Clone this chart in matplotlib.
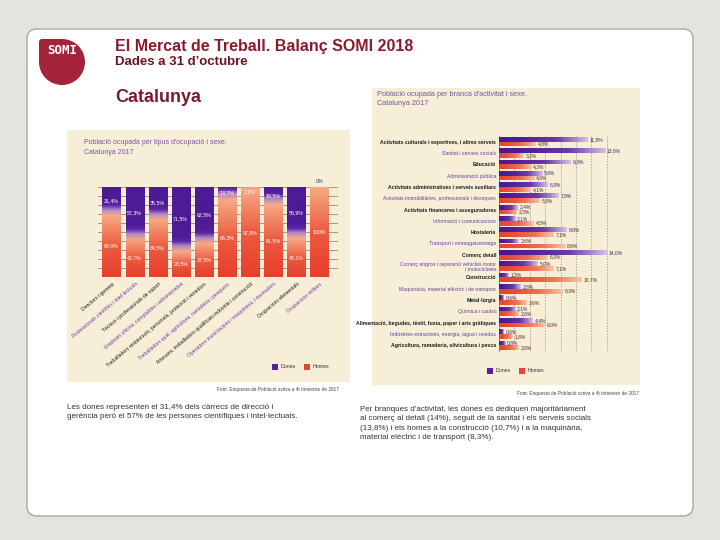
import numpy as np
import matplotlib
matplotlib.use("Agg")
import matplotlib.pyplot as plt
from matplotlib.colors import LinearSegmentedColormap
from matplotlib.patches import Rectangle, FancyBboxPatch, Circle

plt.rcParams['font.family'] = ['Liberation Sans', 'DejaVu Sans']

# Data: left chart (occupation type, % per sex)
ocupacions = [
    "Directors i gerents",
    "Professionals científics i intel·lectuals",
    "Tècnics i professionals de suport",
    "Empleats oficina, comptables i administratius",
    "Treballadors restauració, personals, protecció i venedors",
    "Treballadors qual. agricultura, ramaderia i pesquers",
    "Artesans, treballadors qualificats indústria i construcció",
    "Operadors instal·lacions i maquinària, i muntadors",
    "Ocupacions elementals",
    "Ocupacions militars",
]
dones_ocup = [31.4, 57.3, 35.5, 71.5, 62.5, 13.7, 2.2, 18.5, 56.9, 0]
homes_ocup = [68.6, 42.7, 64.5, 28.5, 37.5, 86.3, 97.8, 81.5, 43.1, 100]

# Data: right chart (activity branch, % of each sex)
branques = [
    "Activitats culturals i esportives, i altres serveis",
    "Sanitat i serveis socials",
    "Educació",
    "Administració pública",
    "Activitats administratives i serveis auxiliars",
    "Activitats immobiliàries, professionals i tècniques",
    "Activitats financeres i asseguradores",
    "Informació i comunicacions",
    "Hostaleria",
    "Transport i emmagatzematge",
    "Comerç detall",
    "Comerç engròs i reparació vehicles motor\ni motocicletes",
    "Construcció",
    "Maquinària, material elèctric i de transport",
    "Metal·lúrgia",
    "Química i cautxú",
    "Alimentació, begudes, tèxtil, fusta, paper i arts gràfiques",
    "Indústries extractives, energia, aigua i residus",
    "Agricultura, ramaderia, silvicultura i pesca",
]
dones_branca = [11.5, 13.8, 9.3, 5.6, 6.3, 7.8, 2.4, 2.1, 8.8, 2.6, 14.0, 5.0, 1.3, 2.8, 0.6, 2.1, 4.4, 0.6, 0.8]
homes_branca = [4.8, 3.2, 4.2, 4.6, 4.1, 5.3, 2.3, 4.5, 7.1, 8.6, 6.3, 7.1, 10.7, 8.3, 3.6, 2.6, 6.0, 1.8, 2.6]

PURPLE = '#55209c'
RED = '#e8452f'
PANEL = '#f6eed7'
TITLE_PURPLE = '#7b55a3'
LABEL_COLORS = ['#1a1a1a', '#6a3fa0']


def pct(v):
    if v in (0, 100):
        return f"{int(v)}%"
    return f"{v:.1f}".replace('.', ',') + '%'


def px(x, y, w, h):
    # pixel box (top-left origin) -> figure fraction rect
    return [x / 720, 1 - (y + h) / 540, w / 720, h / 540]


red_v = LinearSegmentedColormap.from_list('rv', ['#e63f2c', '#ec5a40', '#f5ab86'])
pur_v = LinearSegmentedColormap.from_list('pv', ['#f0a58a', '#b18ac9', '#5d26a4', '#4e1a96'])
red_h = LinearSegmentedColormap.from_list('rh', ['#e8442f', '#ef7455', '#f9c7a8'])
pur_h = LinearSegmentedColormap.from_list('ph', ['#4c1892', '#6a3aa8', '#d6c2e6'])

fig = plt.figure(figsize=(7.2, 5.4), dpi=100)
fig.patch.set_facecolor('#e5e3dd')

bg = fig.add_axes([0, 0, 1, 1])
bg.set_xlim(0, 720)
bg.set_ylim(540, 0)
bg.axis('off')

bg.add_patch(FancyBboxPatch((27, 29), 666, 487, boxstyle='round,pad=0,rounding_size=10',
                            fc='white', ec='#a9a7a1', lw=1))

# logo
bg.add_patch(Circle((62, 62), 23, fc='#a3243a', ec='none'))
bg.add_patch(FancyBboxPatch((39, 39), 23, 23, boxstyle='round,pad=0,rounding_size=3',
                            fc='#a3243a', ec='none'))
bg.text(62, 50, 'SOMI', color='white', fontsize=9, weight='bold', family='DejaVu Sans Mono',
        ha='center', va='center')

bg.text(115, 46, 'El Mercat de Treball. Balanç SOMI 2018', fontsize=11.5, weight='bold',
        color='#8a1b2d', va='center')
bg.text(115, 62, 'Dades a 31 d’octubre', fontsize=9.5, weight='bold', color='#6e1424', va='center')
bg.text(115, 98, 'Catalunya', fontsize=13, weight='bold', color='#7a1c2c', va='center')

# panels
bg.add_patch(Rectangle((67, 130), 283, 252, fc=PANEL, ec='none'))
bg.add_patch(Rectangle((372, 88), 268, 297, fc=PANEL, ec='none'))
bg.text(84, 139, "Població ocupada per tipus d'ocupació i sexe.\nCatalunya 2017", fontsize=5,
        color=TITLE_PURPLE, va='top', linespacing=1.5)
bg.text(377, 91, "Població ocupada per branca d'activitat i sexe.\nCatalunya 2017", fontsize=5.3,
        color=TITLE_PURPLE, va='top', linespacing=1.4)

# legends
for x0, y0 in [(272, 364), (487, 368)]:
    bg.add_patch(Rectangle((x0, y0), 6, 6, fc=PURPLE, ec='none'))
    bg.text(x0 + 9, y0 + 3, 'Dones', fontsize=3.8, va='center', color='#333333')
    bg.add_patch(Rectangle((x0 + 32, y0), 6, 6, fc=RED, ec='none'))
    bg.text(x0 + 41, y0 + 3, 'Homes', fontsize=3.8, va='center', color='#333333')

bg.text(339, 390, 'Font: Enquesta de Població activa a 4t trimestre de 2017', fontsize=3.4,
        ha='right', va='center', color='#444444')
bg.text(639, 393, 'Font: Enquesta de Població activa a 4t trimestre de 2017', fontsize=3.4,
        ha='right', va='center', color='#444444')

bg.text(67, 404, "Les dones representen el 31,4% dels càrrecs de direcció i\n"
        "gerència però el 57% de les persones científiques i intel·lectuals.",
        fontsize=5.8, va='top', color='#333333', linespacing=1.45)
bg.text(360, 406, "Per branques d'activitat, les dones es dediquen majoritàriament\n"
        "al comerç al detall (14%), seguit de la sanitat i els serveis socials\n"
        "(13,8%) i els homes a la construcció (10,7%) i a la maquinària,\n"
        "material elèctric i de transport (8,3%).",
        fontsize=5.8, va='top', color='#333333', linespacing=1.45)

# ---- left chart: stacked columns ----
ax1 = fig.add_axes(px(97.6, 187, 240.3, 90))
ax1.set_facecolor('none')
x = np.arange(len(ocupacions))
b_h = ax1.bar(x, homes_ocup, width=0.78, color=RED, zorder=2)
b_d = ax1.bar(x, dones_ocup, bottom=homes_ocup, width=0.78, color=PURPLE, zorder=2)

for p, h in zip(b_h, homes_ocup):
    if h <= 0:
        continue
    x0, w = p.get_x(), p.get_width()
    grad = np.linspace(0, 1, 128).reshape(-1, 1)
    im = ax1.imshow(grad, cmap=red_v, origin='lower', aspect='auto',
                    extent=(x0, x0 + w, 0, h), zorder=3)
    im.set_clip_path(p)
for p, h, d in zip(b_d, homes_ocup, dones_ocup):
    if d <= 0:
        continue
    x0, w = p.get_x(), p.get_width()
    ys = np.linspace(h, h + d, 128)
    grad = np.clip((ys - h) / 16, 0, 1).reshape(-1, 1)
    im = ax1.imshow(grad, cmap=pur_v, origin='lower', aspect='auto', vmin=0, vmax=1,
                    extent=(x0, x0 + w, h, h + d), zorder=3)
    im.set_clip_path(p)

for i, (d, h) in enumerate(zip(dones_ocup, homes_ocup)):
    if d == 0:
        ax1.text(i, 103, pct(d), ha='center', va='bottom', fontsize=3.8, color='#3a2a55', clip_on=False)
    else:
        yd = 100 - d / 2 if d >= 12 else 100 - 5
        ax1.text(i, yd, pct(d), ha='center', va='center', fontsize=3.8, color='white', zorder=5)
    ax1.text(i, h / 2, pct(h), ha='center', va='center', fontsize=3.8, color='white', zorder=5)

for i, lab in enumerate(ocupacions):
    ax1.text(i + 0.1, -7, lab, rotation=40, rotation_mode='anchor', ha='right', va='center',
             fontsize=3.6, color=LABEL_COLORS[i % 2], clip_on=False)

ax1.set_xlim(-0.6, 9.8)
ax1.set_ylim(0, 100)
ax1.set_yticks(np.arange(0, 101, 10))
ax1.yaxis.grid(True, color='#7d786c', lw=0.5, zorder=0)
ax1.set_axisbelow(True)
ax1.set_xticks([])
ax1.tick_params(left=False, labelleft=False)
for s in ax1.spines.values():
    s.set_visible(False)

# ---- right chart: horizontal grouped bars ----
ax2 = fig.add_axes(px(499, 136, 120, 215))
ax2.set_facecolor('none')
y = np.arange(len(branques))
bh = 0.42
bars_d = ax2.barh(y - bh / 2, dones_branca, height=bh, color=PURPLE, zorder=2)
bars_h = ax2.barh(y + bh / 2, homes_branca, height=bh, color=RED, zorder=2)

for bars, cmap in [(bars_d, pur_h), (bars_h, red_h)]:
    for p in bars:
        v = p.get_width()
        y0, hh = p.get_y(), p.get_height()
        grad = (np.linspace(0, 1, 128) ** 1.6).reshape(1, -1)
        im = ax2.imshow(grad, cmap=cmap, aspect='auto', vmin=0, vmax=1,
                        extent=(0, v, y0 + hh, y0), zorder=3)
        im.set_clip_path(p)

for i, (d, h) in enumerate(zip(dones_branca, homes_branca)):
    ax2.text(d + 0.25, i - bh / 2, pct(d), va='center', ha='left', fontsize=3.6, color='#3a2a55')
    ax2.text(h + 0.25, i + bh / 2, pct(h), va='center', ha='left', fontsize=3.6, color='#5a2a20')

ax2.set_xlim(0, 15.6)
ax2.set_ylim(len(branques) - 0.5, -0.5)
ax2.set_yticks(y)
ax2.set_yticklabels(branques, fontsize=3.7, linespacing=1.1)
for i, tl in enumerate(ax2.get_yticklabels()):
    tl.set_color(LABEL_COLORS[i % 2])
    if i % 2 == 0:
        tl.set_fontweight('bold')
ax2.tick_params(axis='y', length=0, pad=2)
ax2.set_xticks(np.arange(2, 16, 2))
ax2.tick_params(axis='x', length=0, labelbottom=False)
ax2.xaxis.grid(True, color='#8f8a7e', lw=0.5, ls=(0, (2, 2)), zorder=0)
ax2.set_axisbelow(True)
for s in ['top', 'right', 'bottom']:
    ax2.spines[s].set_visible(False)
ax2.spines['left'].set_color('#555555')
ax2.spines['left'].set_linewidth(0.5)

fig.savefig('out.png', dpi=100, facecolor=fig.get_facecolor())
